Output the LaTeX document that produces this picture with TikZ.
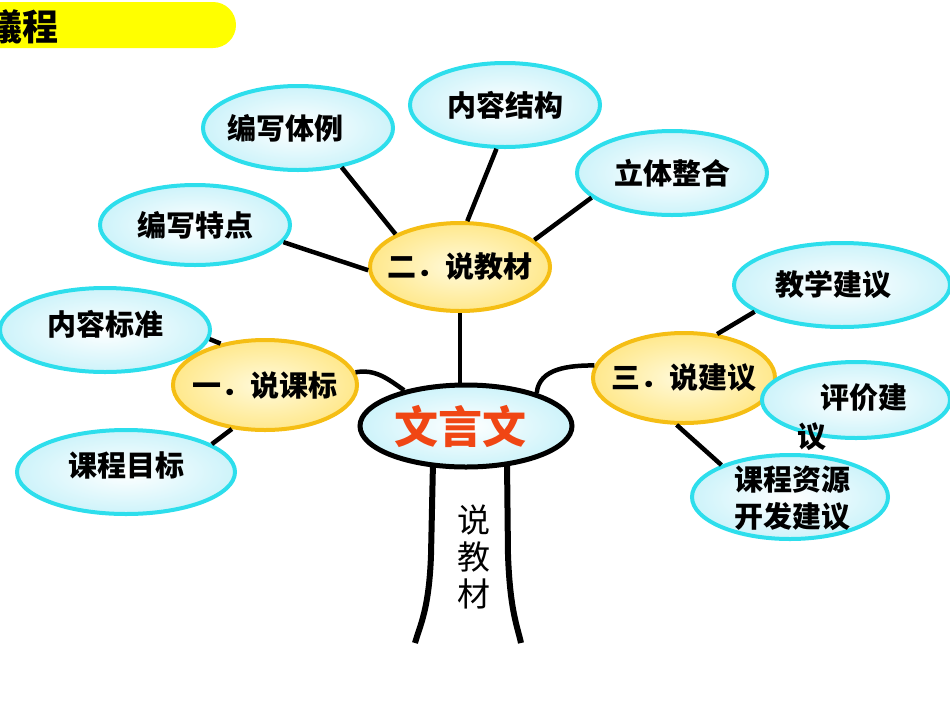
\documentclass[tikz,border=0pt]{standalone}
\usepackage{fontspec}
\setmainfont{Noto Sans CJK SC}
\usetikzlibrary{shapes.geometric}
\definecolor{cyb}{RGB}{45,222,236}
\definecolor{cyf}{RGB}{205,243,250}
\definecolor{yeb}{RGB}{245,190,20}
\definecolor{yef}{RGB}{255,232,140}
\definecolor{redt}{RGB}{240,70,20}
\definecolor{banner}{RGB}{255,255,0}
\newcommand\lblfont{\fontsize{29}{34}\selectfont\bfseries}
\newcommand\zw[1]{\makebox[0pt]{#1}}
\begin{document}
\begin{tikzpicture}[x=1pt,y=-1pt,
  cyell/.style={ellipse, draw=cyb, line width=4pt, inner color=white, outer color=cyf, inner sep=0pt, font=\lblfont},
  yeell/.style={ellipse, draw=yeb, line width=4pt, inner color={rgb,255:red,255;green,250;blue,220}, outer color=yef, inner sep=0pt, font=\lblfont},
  conn/.style={line width=4.5pt, black},
  trunk/.style={line width=6pt, black}]
\useasboundingbox (0,0) rectangle (950,713);
\clip (0,0) rectangle (950,713);
% title banner
\fill[banner, rounded corners=23pt] (-40,2) rectangle (236,48);
\node[anchor=east, inner sep=0pt, font=\fontsize{36}{40}\selectfont\bfseries] (title) at (59,27) {議程};
% trunk
\draw[trunk] (433,462) -- (431,555) .. controls (429,610) and (420,625) .. (415,643);
\draw[trunk] (507,462) -- (508,555) .. controls (510,610) and (517,625) .. (521,643);
\node[align=center, inner sep=0pt, font=\fontsize{33}{37}\selectfont] (shuo) at (474,557) {说\\教\\材};
% nodes
\node[cyell, minimum width=190pt, minimum height=84pt] (jg) at (505,105) {\zw{内容结构}};
\node[cyell, minimum width=190pt, minimum height=84pt] (tl) at (298,128) {\zw{\hspace*{-26pt}编写体例}};
\node[cyell, minimum width=190pt, minimum height=80pt] (td) at (195,225) {\zw{编写特点}};
\node[cyell, minimum width=190pt, minimum height=84pt] (lt) at (672,173) {\zw{立体整合}};
\node[yeell, minimum width=180pt, minimum height=88pt] (er) at (460,267) {\zw{二．说教材}};
\node[cyell, minimum width=210pt, minimum height=84pt] (bz) at (105,330) {\zw{\raisebox{15pt}{内容标准}}};
\node[yeell, minimum width=184pt, minimum height=90pt] (yi) at (265,385) {\zw{一．说课标}};
\node[cyell, minimum width=218pt, minimum height=84pt] (mb) at (126,472) {\zw{\raisebox{15pt}{课程目标}}};
\node[cyell, minimum width=216pt, minimum height=84pt] (jx) at (842,285) {\zw{\hspace*{-18pt}教学建议}};
\node[yeell, minimum width=182pt, minimum height=90pt] (san) at (684,378) {\zw{三．说建议}};
\node[cyell, minimum width=188pt, minimum height=76pt] (pj) at (856,400) {};
\node[anchor=north west, align=left, inner sep=0pt, font=\fontsize{29}{39}\selectfont\bfseries] (pjt) at (797,383) {\hspace*{23pt}评价建\\议};
\node[cyell, minimum width=196pt, minimum height=84pt] (zy) at (790,497) {};
\node[align=center, inner sep=0pt, font=\fontsize{29}{37}\selectfont\bfseries] (zyt) at (792,498) {课程资源\\开发建议};
\node[ellipse, draw=black, line width=5pt, inner color=white, outer color=cyf, inner sep=0pt, minimum width=212pt, minimum height=82pt, font=\fontsize{44}{48}\selectfont\bfseries, text=redt] (wyw) at (466,426) {\zw{\hspace*{-12pt}文言文}};
% connectors
\draw[conn] (td.-11) -- (er.182);
\draw[conn] (tl.-42) -- (er.153);
\draw[conn] (jg.-101) -- (er.81);
\draw[conn] (lt.-163) -- (er.20);
\draw[conn] (er.south) -- (er.south |- wyw.north);
\draw[conn] (bz.-5) -- (yi.137);
\draw[conn] (mb.18) -- (yi.233);
\draw[conn] (yi.8) to[out=10, in=145] (wyw.150);
\draw[conn] (jx.197) -- (san.53);
\draw[conn] (zy.155) -- (san.-99);
\draw[conn] (san.172) to[out=180, in=85] (wyw.25);
\end{tikzpicture}
\end{document}
